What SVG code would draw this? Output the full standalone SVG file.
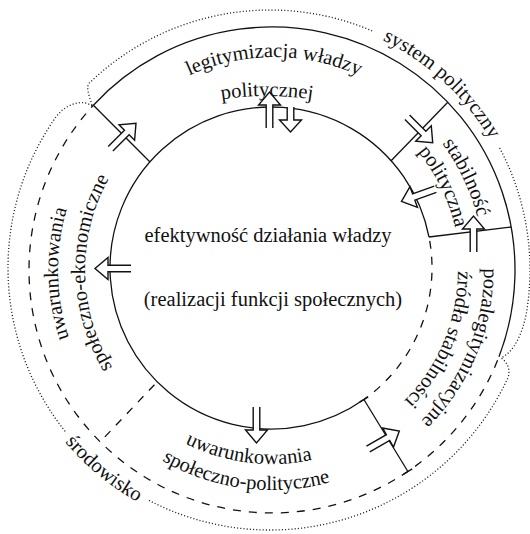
<svg xmlns="http://www.w3.org/2000/svg" xmlns:xlink="http://www.w3.org/1999/xlink" width="530" height="534" viewBox="0 0 530 534">
<style>
  .t { font-family: "Liberation Serif", "DejaVu Serif", serif; font-size: 20.5px; fill: #111; }
  .solid { fill: none; stroke: #111; stroke-width: 1.3; }
  .dash { fill: none; stroke: #111; stroke-width: 1.3; stroke-dasharray: 8 8; }
  .dot { fill: none; stroke: #222; stroke-width: 1.3; stroke-dasharray: 1.1 2.1; }
  .arr { fill: #fff; stroke: #111; stroke-width: 1.4; stroke-linejoin: miter; }
</style>
<defs>
  <path id="arr" class="arr" d="M-36,-3.3 H-13 V-11 L0,0 L-13,11 V3.3 H-36"/>
  <path id="arrS" class="arr" d="M-25,-3.3 H-12 V-11 L0,0 L-12,11 V3.3 H-25"/>
  <path id="p-leg" d="M81.4,191.9 A205,205 0 0 1 466.6,191.9"/>
  <path id="p-pol" d="M164.4,114.1 A300,300 0 0 1 369.6,114.1"/>
  <path id="p-sys" d="M270,14 A256,256 0 0 1 525.2,249.5"/>
  <path id="p-stab" d="M392.1,95.3 A212,212 0 0 1 483.3,286.6"/>
  <path id="p-stab2" d="M377.1,114.1 A188,188 0 0 1 459.5,283.1"/>
  <path id="p-poza" d="M479,224.1 A212,212 0 0 1 385.9,448.8"/>
  <path id="p-zrod" d="M453.6,229.7 A186,186 0 0 1 371.9,426.9"/>
  <path id="p-uwL" d="M98.9,395.8 A214,214 0 0 1 94.6,150.3"/>
  <path id="p-speL" d="M142.1,404.5 A187,187 0 0 1 137.5,140.1"/>
  <path id="p-uwB" d="M129.4,401.5 A194,194 0 0 0 376.8,433.3"/>
  <path id="p-spB" d="M97.9,404.5 A220,220 0 0 0 406.5,444.1"/>
  <path id="p-sr" d="M17.2,360 A269,269 0 0 0 227,533.5"/>
</defs>
<rect width="530" height="534" fill="#fff"/>

<g id="boundaries">
  <path id="srodowisko-line" class="dot" d="M92,106 C83,99 66,103 55.4,117.7 A262,262 0 0 0 66.4,432.9 M149,500.4 A262,262 0 0 0 507.5,378.7 C510.9,371.5 508,362 501,358"/>
  <path id="system-line" class="dot" d="M92,105 C90,98 85.2,87.1 89.5,82.9 A260,260 0 0 1 372.8,31.2 M499.6,147.9 A260,260 0 0 1 526.4,312.9 C524.7,322.8 518,350 501,358"/>
  <path class="solid" d="M93.4,105.2 A243,243 0 0 1 499,356.7"/>
  <path class="dash" d="M499,356.7 A243,243 0 1 1 93.4,105.2" stroke-dashoffset="12"/>
  <path class="solid" d="M363.9,399.5 A161,161 0 1 1 429,237"/>
  <path class="dash" d="M429,237 A161,161 0 0 1 363.9,399.5" stroke-dashoffset="12"/>
  <path class="solid" d="M93.4,105.2 L150,162"/>
  <path class="solid" d="M447.8,102.3 L391.1,160.8"/>
  <path class="solid" d="M429,237 L511.2,227"/>
  <path class="solid" d="M363.9,399.5 L407.9,471.5 M359.6,402.1 L368.2,396.9 M403.6,474.1 L412.2,468.9"/>
  <path class="dash" d="M157.2,381.8 L100.2,441.8" stroke-dashoffset="12"/>
</g>

<g id="connectors">
  <use xlink:href="#arr" href="#arr" transform="translate(136,123.3) rotate(-45)"/>
  <use xlink:href="#arr" href="#arr" transform="translate(269.5,92) rotate(-90)"/>
  <use xlink:href="#arrS" href="#arrS" transform="translate(290.5,132) rotate(90)"/>
  <use xlink:href="#arr" href="#arr" transform="translate(432.7,142.7) rotate(45)"/>
  <use xlink:href="#arr" href="#arr" transform="translate(401.5,201.5) rotate(160)"/>
  <use xlink:href="#arr" href="#arr" transform="translate(473.5,216) rotate(-90)"/>
  <use xlink:href="#arr" href="#arr" transform="translate(95,268.5) rotate(180)"/>
  <use xlink:href="#arr" href="#arr" transform="translate(256.5,443) rotate(90)"/>
  <use xlink:href="#arr" href="#arr" transform="translate(399.3,431) rotate(-30)"/>
</g>

<g id="node-center">
  <text class="t" x="268" y="242" text-anchor="middle">efektywność działania władzy</text>
  <text class="t" x="273" y="306" text-anchor="middle">(realizacji funkcji społecznych)</text>
</g>
<g id="node-legitymizacja">
  <text class="t" text-anchor="middle"><textPath xlink:href="#p-leg" href="#p-leg" startOffset="50%">legitymizacja władzy</textPath></text>
  <text class="t" text-anchor="middle"><textPath xlink:href="#p-pol" href="#p-pol" startOffset="50%">politycznej</textPath></text>
</g>
<g id="node-stabilnosc">
  <text class="t" text-anchor="middle"><textPath xlink:href="#p-stab" href="#p-stab" startOffset="50%">stabilność</textPath></text>
  <text class="t" text-anchor="middle"><textPath xlink:href="#p-stab2" href="#p-stab2" startOffset="50%">polityczna</textPath></text>
</g>
<g id="node-pozalegitymizacyjne">
  <text class="t" text-anchor="middle"><textPath xlink:href="#p-poza" href="#p-poza" startOffset="50%">pozalegitymizacyjne</textPath></text>
  <text class="t" text-anchor="middle"><textPath xlink:href="#p-zrod" href="#p-zrod" startOffset="50%">źródła stabilności</textPath></text>
</g>
<g id="node-spoleczno-polityczne">
  <text class="t" text-anchor="middle"><textPath xlink:href="#p-uwB" href="#p-uwB" startOffset="50%">uwarunkowania</textPath></text>
  <text class="t" text-anchor="middle"><textPath xlink:href="#p-spB" href="#p-spB" startOffset="50%">społeczno-polityczne</textPath></text>
</g>
<g id="node-spoleczno-ekonomiczne">
  <text class="t" text-anchor="middle"><textPath xlink:href="#p-uwL" href="#p-uwL" startOffset="50%">uwarunkowania</textPath></text>
  <text class="t" text-anchor="middle"><textPath xlink:href="#p-speL" href="#p-speL" startOffset="50%">społeczno-ekonomiczne</textPath></text>
</g>
<g id="node-system">
  <text class="t" text-anchor="middle"><textPath xlink:href="#p-sys" href="#p-sys" startOffset="50%">system polityczny</textPath></text>
</g>
<g id="node-srodowisko">
  <text class="t" text-anchor="middle"><textPath xlink:href="#p-sr" href="#p-sr" startOffset="50%">środowisko</textPath></text>
</g>
</svg>
